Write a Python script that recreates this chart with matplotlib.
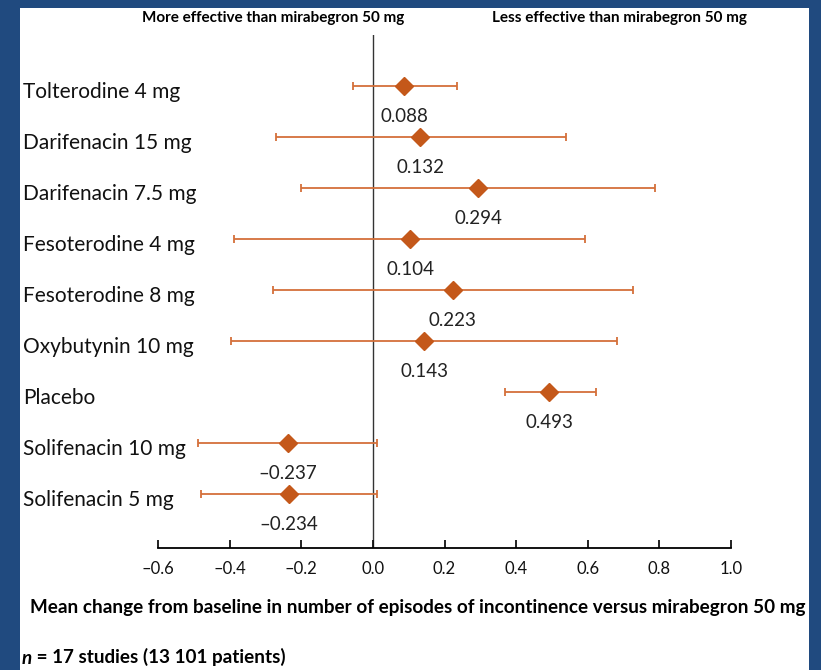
import numpy as np
import matplotlib.pyplot as plt
from matplotlib.patches import Rectangle
from matplotlib.transforms import blended_transform_factory

# Data
treatments = ['Tolterodine 4 mg', 'Darifenacin 15 mg', 'Darifenacin 7.5 mg',
              'Fesoterodine 4 mg', 'Fesoterodine 8 mg', 'Oxybutynin 10 mg',
              'Placebo', 'Solifenacin 10 mg', 'Solifenacin 5 mg']
mean_diff = [0.088, 0.132, 0.294, 0.104, 0.223, 0.143, 0.493, -0.237, -0.234]
ci_low = [-0.056, -0.271, -0.201, -0.389, -0.279, -0.397, 0.369, -0.489, -0.480]
ci_high = [0.235, 0.538, 0.789, 0.592, 0.725, 0.683, 0.622, 0.011, 0.012]
xticks = [-0.6, -0.4, -0.2, 0.0, 0.2, 0.4, 0.6, 0.8, 1.0]

plt.rcParams['font.family'] = ['Lato', 'DejaVu Sans']

line_col = '#D4703A'
mark_col = '#C4581A'
border_col = '#204A7F'

fig = plt.figure(figsize=(8.21, 6.70), dpi=100, facecolor=border_col)
fig.patches.append(Rectangle((20 / 821, 0), 789 / 821, 662 / 670,
                             transform=fig.transFigure, facecolor='white',
                             edgecolor='none', zorder=-5))

ax = fig.add_axes([158 / 821, 1 - 548 / 670, 573 / 821, (548 - 35) / 670])
ax.patch.set_alpha(0)

y = np.arange(len(treatments))
mean_diff = np.array(mean_diff)
err = [mean_diff - np.array(ci_low), np.array(ci_high) - mean_diff]

ax.axvline(0, color='#333333', lw=1.0, zorder=1)
ax.errorbar(mean_diff, y, xerr=err, fmt='none', ecolor=line_col,
            elinewidth=1.3, capsize=3, capthick=1.3, zorder=2)
ax.plot(mean_diff, y, 'D', color=mark_col, ms=9, zorder=3)

for yi, v in zip(y, mean_diff):
    ax.text(v, yi + 0.6, f'{v:.3f}'.replace('-', '\u2013'), ha='center',
            va='center', fontsize=13.5, color='#222222')

# treatment names sit at the left edge of the white panel
lab_tr = blended_transform_factory(fig.transFigure, ax.transData)
for yi, name in zip(y, treatments):
    fig.text(23 / 821, yi + 0.12, name, transform=lab_tr,
             ha='left', va='center', fontsize=15, color='#111111')

ax.set_xlim(-0.6, 1.0)
ax.set_ylim(9.06, -1.0)
ax.set_xticks(xticks)
ax.set_xticklabels([f'{t:.1f}'.replace('-', '\u2013') for t in xticks])
ax.set_yticks([])
for s in ['left', 'right', 'top']:
    ax.spines[s].set_visible(False)
ax.spines['bottom'].set_linewidth(1.3)
ax.tick_params(axis='x', direction='in', length=6, width=1.3, pad=9,
               labelsize=12, colors='#111111')

fig.text(273 / 821, 1 - 18 / 670, 'More effective than mirabegron 50 mg',
         ha='center', va='center', fontsize=11, fontweight='bold')
fig.text(619 / 821, 1 - 18 / 670, 'Less effective than mirabegron 50 mg',
         ha='center', va='center', fontsize=11, fontweight='bold')
fig.text(418 / 821, 1 - 607 / 670,
         'Mean change from baseline in number of episodes of incontinence versus mirabegron 50 mg',
         ha='center', va='center', fontsize=13.6, fontweight='bold')
n_txt = fig.text(22 / 821, 1 - 658 / 670, 'n', ha='left', va='center',
                 fontsize=13.6, fontweight='bold', style='italic')
ax.annotate(' = 17 studies (13 101 patients)', xy=(1, 0), xycoords=n_txt,
            va='bottom', ha='left', fontsize=13.6, fontweight='bold',
            annotation_clip=False)

fig.savefig('out.png', dpi=100, facecolor=border_col)
